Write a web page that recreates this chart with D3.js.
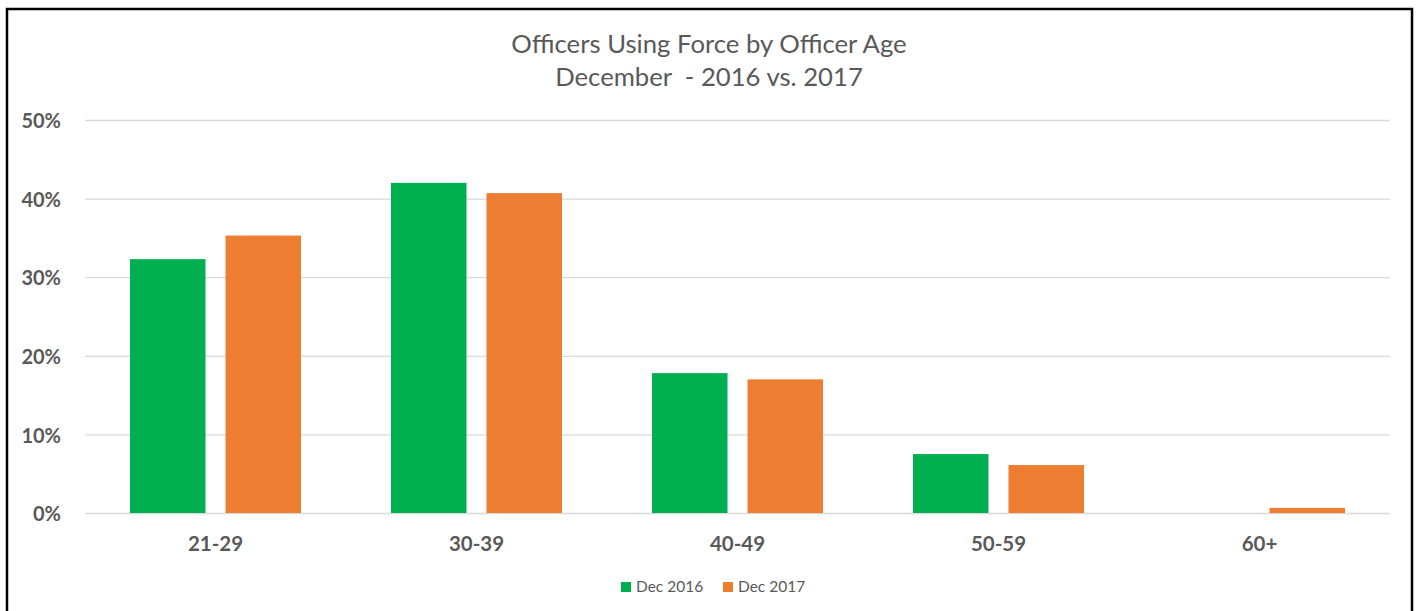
<!DOCTYPE html>
<html><head><meta charset="utf-8">
<script src="https://cdn.jsdelivr.net/npm/d3@7"></script>
<style>
html,body{margin:0;padding:0;background:#fff;}
svg{display:block;}
text{font-family:Lato,"Open Sans",sans-serif;}
</style></head>
<body>
<svg id="chart" width="1416" height="611"></svg>
<script>
const categories = ["21-29","30-39","40-49","50-59","60+"];
const seriesNames = ["Dec 2016","Dec 2017"];
const dec2016 = [0.323, 0.420, 0.178, 0.075, 0.0];
const dec2017 = [0.353, 0.407, 0.170, 0.061, 0.0065];
const yTicks = [0,0.1,0.2,0.3,0.4,0.5];
const colors = ["#00B050","#ED7D31"];
const titleLines = ["Officers Using Force by Officer Age","December  - 2016 vs. 2017"];

const svg = d3.select("#chart");
const plot = {left:85, right:1390, top:120, bottom:513};

// outer border
svg.append("rect").attr("x",7).attr("y",9).attr("width",1405).attr("height",620)
  .attr("fill","none").attr("stroke","#000").attr("stroke-width",2.5);

const x0 = d3.scaleBand().domain(categories).range([plot.left, plot.right]).padding(0);
const x1 = d3.scaleBand().domain(seriesNames).range([45, 216]).paddingInner(0.2094).paddingOuter(0);
const y = d3.scaleLinear().domain([0,0.5]).range([plot.bottom, plot.top]);

// gridlines + y labels
const yAxis = d3.axisLeft(y).tickValues(yTicks).tickFormat(d3.format(".0%")).tickSize(-(plot.right-plot.left)).tickPadding(24);
const gy = svg.append("g").attr("transform",`translate(${plot.left},0)`).call(yAxis);
gy.select(".domain").remove();
gy.selectAll(".tick line").attr("stroke","#D9D9D9").attr("stroke-width",1.3);
gy.selectAll(".tick text").attr("fill","#595959").attr("font-size","20px").attr("font-weight","bold")
  .attr("font-family","Lato, sans-serif").attr("dy","0.38em");

// bars
const data = categories.map((c,i)=>({cat:c, vals:[{s:seriesNames[0],v:dec2016[i]},{s:seriesNames[1],v:dec2017[i]}]}));
const groups = svg.append("g").selectAll("g").data(data).join("g")
  .attr("transform",d=>`translate(${x0(d.cat)},0)`);
groups.selectAll("rect").data(d=>d.vals).join("rect")
  .attr("x",d=>x1(d.s)).attr("width",x1.bandwidth())
  .attr("y",d=>y(d.v)).attr("height",d=>y(0)-y(d.v))
  .attr("fill",(d,i)=>colors[i]);

// x axis labels
const xAxis = d3.axisBottom(x0).tickSize(0).tickPadding(23);
const gx = svg.append("g").attr("transform",`translate(0,${plot.bottom})`).call(xAxis);
gx.select(".domain").remove();
gx.selectAll(".tick text").attr("fill","#595959").attr("font-size","20.5px").attr("font-weight","bold")
  .attr("font-family","Lato, sans-serif");

// title
const t = svg.append("text").attr("text-anchor","middle").attr("fill","#595959").attr("font-size","25.7px");
titleLines.forEach((l,i)=>{
  t.append("tspan").attr("x",709).attr("y",53+i*33).attr("xml:space","preserve").text(l);
});

// legend
const legendX = [621, 723];
const lg = svg.append("g").selectAll("g").data(seriesNames).join("g")
  .attr("transform",(d,i)=>`translate(${legendX[i]},582)`);
lg.append("rect").attr("width",10).attr("height",10).attr("fill",(d,i)=>colors[i]);
lg.append("text").attr("x",15).attr("y",10).attr("font-size","15.5px").attr("fill","#595959").text(d=>d);
</script>
</body></html>
